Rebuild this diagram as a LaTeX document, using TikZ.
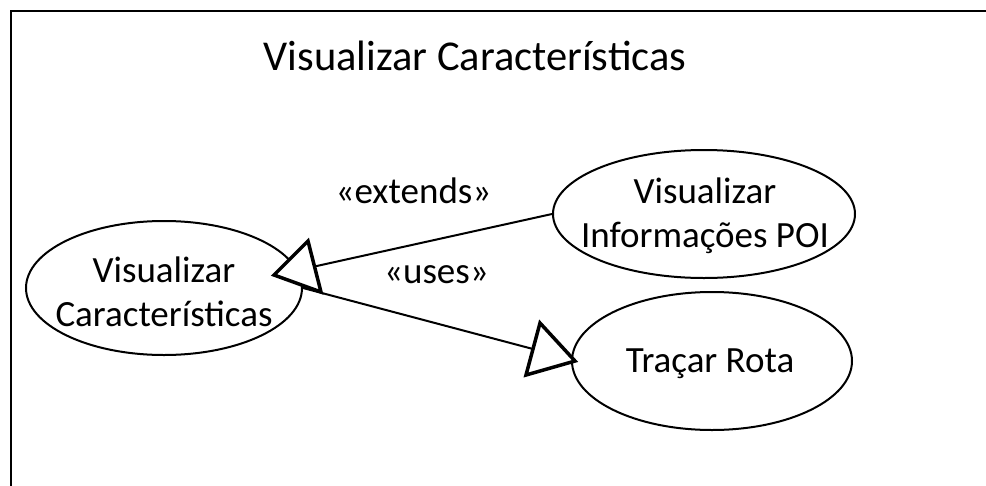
\documentclass[tikz,border=0pt]{standalone}
\usepackage{fontspec}
\setmainfont{Carlito}
\usetikzlibrary{shapes.geometric}
\begin{document}
\begin{tikzpicture}[x=1pt,y=-1pt,
  usecase/.style={draw=black,line width=2pt,ellipse,inner sep=0pt},
  txt/.style={anchor=base,align=center,inner sep=0pt,font=\fontsize{37pt}{43.5pt}\selectfont},
  ttl/.style={anchor=base,inner sep=0pt,font=\fontsize{42.5pt}{51pt}\selectfont},
  conn/.style={draw=black,line width=2pt},
  gen/.style={draw=black,fill=white,line width=3.5pt,line join=miter},
  frame/.style={draw=black,line width=2.5pt}]
\useasboundingbox (0,0) rectangle (986,485);
% frame (top and left edges)
\coordinate (fTL) at (11,11);
\coordinate (fTR) at (990,11);
\coordinate (fBL) at (11,490);
\draw[frame] (fTR) -- (fTL) -- (fBL);
% title
\node[ttl] (title) at (475,70) {Visualizar Características};
% use cases
\node[usecase,minimum width=276pt,minimum height=134pt] (vc) at (164,288) {};
\node[usecase,minimum width=302pt,minimum height=128pt] (poi) at (704,214) {};
\node[usecase,minimum width=280pt,minimum height=138pt] (rota) at (712,361) {};
\node[txt] (vcT) at (164,326) {Visualizar\\Características};
\node[txt] (poiT) at (705,247) {Visualizar\\Informações POI};
\node[txt] (rotaT) at (710,372) {Traçar Rota};
% triangle geometry
\coordinate (A1) at (308,241);
\coordinate (T1) at (274,275);
\coordinate (B1) at (321,292);
\coordinate (M1) at (314.5,266.5);
\coordinate (A2) at (540,323);
\coordinate (B2) at (526,375);
\coordinate (T2) at (575,361);
\coordinate (M2) at (533,349);
% connectors
\draw[conn] (poi.west) -- (M1);
\draw[conn] (vc.east) -- (M2);
\draw[gen] (A1) -- (T1) -- (B1) -- cycle;
\draw[gen] (A2) -- (T2) -- (B2) -- cycle;
% labels
\node[txt] (ext) at (413.5,203) {«extends»};
\node[txt] (uses) at (436.5,283) {«uses»};
\end{tikzpicture}
\end{document}
